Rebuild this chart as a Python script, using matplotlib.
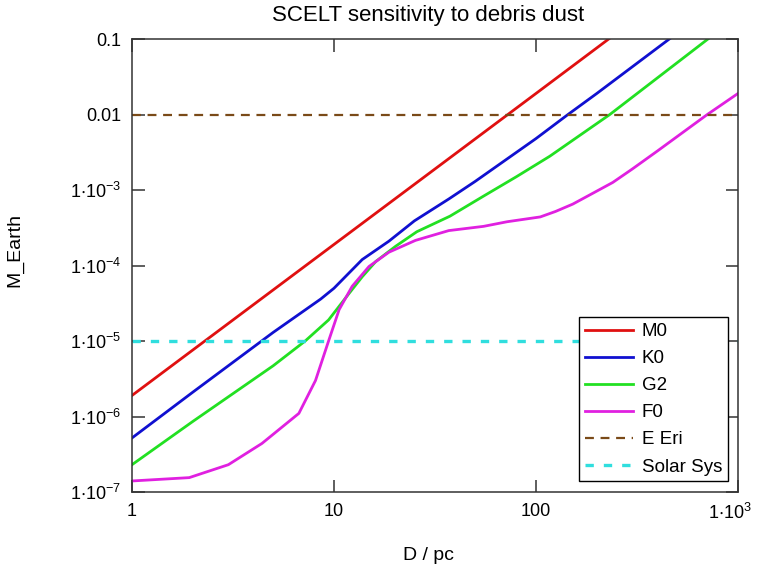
import numpy as np
import matplotlib
matplotlib.use("Agg")
import matplotlib.pyplot as plt
import matplotlib.transforms as mtransforms

plt.rcParams['font.family'] = ['Liberation Sans', 'DejaVu Sans']
plt.rcParams['mathtext.fontset'] = 'custom'
plt.rcParams['mathtext.rm'] = 'Liberation Sans'
plt.rcParams['mathtext.default'] = 'regular'

# values (distance in pc, mass in M_Earth)
d_m0 = [1, 2, 5, 10, 20, 50, 100, 229, 300]
m_m0 = [1.9e-6, 7.6e-6, 4.75e-5, 1.9e-4, 7.6e-4, 4.75e-3, 0.019, 0.1, 0.17]

d_k0 = [1, 2, 5, 8.6, 10, 13.8, 18.7, 25, 37, 50, 100, 144, 200, 457, 600]
m_k0 = [5.2e-7, 2.1e-6, 1.3e-5, 3.6e-5, 5.0e-5, 1.2e-4, 2.1e-4, 3.9e-4, 7.6e-4,
        1.3e-3, 4.8e-3, 0.01, 0.019, 0.1, 0.17]

d_g2 = [1, 2, 5, 7.2, 9.4, 11.9, 13.8, 16.1, 20.2, 25.7, 37.5, 55, 80, 117, 232,
        710, 900]
m_g2 = [2.3e-7, 8.6e-7, 4.7e-6, 1e-5, 1.9e-5, 4.3e-5, 7.1e-5, 1.13e-4, 1.8e-4,
        2.8e-4, 4.5e-4, 8.3e-4, 1.5e-3, 2.8e-3, 0.01, 0.1, 0.16]

d_f0 = [1, 1.92, 3.0, 4.4, 6.7, 8.1, 9.4, 10.6, 12.3, 14.9, 18.7, 25.3, 37, 55,
        72, 105, 125, 152, 180, 240, 300, 400, 705, 1000]
m_f0 = [1.4e-7, 1.55e-7, 2.3e-7, 4.4e-7, 1.1e-6, 3e-6, 1e-5, 2.6e-5, 5.3e-5,
        9.7e-5, 1.5e-4, 2.15e-4, 2.9e-4, 3.3e-4, 3.8e-4, 4.4e-4, 5.2e-4, 6.5e-4,
        8.3e-4, 1.26e-3, 1.9e-3, 3.3e-3, 0.01, 0.019]

eps_eri = 0.01
solar_sys = 1e-5

x_ticks = [1, 10, 100, 1000]
x_labels = ['1', '10', '100', r'1$\cdot$10$^{3}$']
y_ticks = [1e-7, 1e-6, 1e-5, 1e-4, 1e-3, 0.01, 0.1]
y_labels = [r'1$\cdot$10$^{-7}$', r'1$\cdot$10$^{-6}$', r'1$\cdot$10$^{-5}$',
            r'1$\cdot$10$^{-4}$', r'1$\cdot$10$^{-3}$', '0.01', '0.1']

fig = plt.figure(figsize=(7.6, 5.7), dpi=100)
ax = fig.add_axes([132/760, 1-492/570, 606/760, 453/570])

ax.plot(d_m0, m_m0, color='#e01010', lw=2, label='M0')
ax.plot(d_k0, m_k0, color='#1010d0', lw=2, label='K0')
ax.plot(d_g2, m_g2, color='#22e022', lw=2, label='G2')
ax.plot(d_f0, m_f0, color='#e020e0', lw=2, label='F0')
ax.plot([1, 1000], [eps_eri, eps_eri], color='#7a4a18', lw=1.6,
        dashes=(4, 3), label='E Eri')
ax.plot([1, 1000], [solar_sys, solar_sys], color='#30dede', lw=2.4,
        dashes=(2.5, 3), label='Solar Sys')

ax.set_xscale('log')
ax.set_yscale('log')
ax.set_xlim(1, 1000)
ax.set_ylim(1e-7, 0.1)
ax.set_xticks(x_ticks)
ax.set_xticklabels(x_labels)
ax.set_yticks(y_ticks)
ax.set_yticklabels(y_labels)
ax.minorticks_off()
ax.tick_params(direction='in', length=9, width=1.1, top=True, right=True,
               labelsize=13, pad=8, color='#333333')
for s in ax.spines.values():
    s.set_linewidth(1.1)
    s.set_color('#333333')

# keep the last x label inside the figure
last = ax.get_xticklabels()[-1]
last.set_transform(last.get_transform() +
                   mtransforms.ScaledTranslation(-8/100, 0, fig.dpi_scale_trans))

leg = ax.legend(loc='lower right', bbox_to_anchor=(0.983, 0.024), borderaxespad=0,
                fancybox=False, framealpha=1, edgecolor='black', fontsize=13.5,
                handlelength=2.6, handletextpad=0.45, labelspacing=0.53,
                borderpad=0.3)
leg.get_frame().set_linewidth(1.0)

fig.text(428/760, 1-15/570, 'SCELT sensitivity to debris dust', ha='center',
         va='center', fontsize=16)
fig.text(15/760, 1-250/570, 'M_Earth', rotation=90, ha='center', va='center',
         fontsize=14)
fig.text(428/760, 1-555/570, 'D / pc', ha='center', va='center', fontsize=14)

fig.savefig('out.png', dpi=100)
